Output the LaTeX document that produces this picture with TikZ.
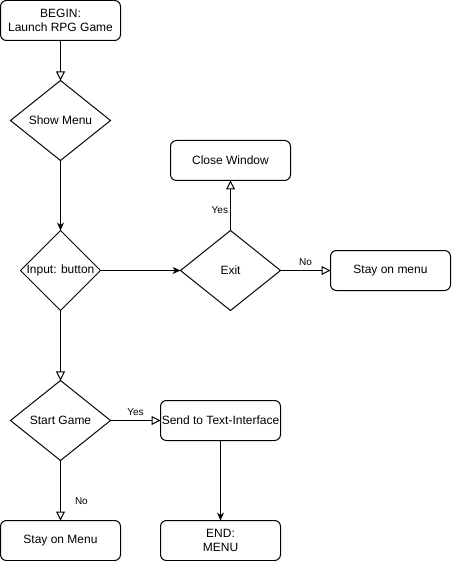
\documentclass[tikz,border=0pt]{standalone}
\usepackage{fontspec}
\setmainfont{Liberation Sans}
\usetikzlibrary{shapes,arrows.meta,positioning}
\tikzstyle{block} = [rectangle, draw, text centered, align=center, rounded corners=6pt, minimum width=120pt, minimum height=40pt, inner xsep=0.5pt, outer sep=0pt, font=\fontsize{12}{14}\selectfont]
\tikzstyle{decision} = [diamond, draw, inner sep=0pt, outer sep=0pt, minimum width=100pt, minimum height=80pt, font=\fontsize{12}{14}\selectfont]
\tikzstyle{line} = [draw, -{Stealth[length=8pt,width=7pt]}]
\tikzstyle{openline} = [draw, -{Triangle[open,length=9pt,width=9pt]}]
\tikzstyle{answer} = [font=\fontsize{10}{12}\selectfont, inner sep=2pt]

\begin{document}
\begin{tikzpicture}[x=1pt, y=-1pt, line width=1pt, node distance=40pt]
    \useasboundingbox (0,0) rectangle (451,561);
    % Place nodes
    \node [block] (begin) at (60.5,20.5) {BEGIN:\\Launch RPG Game};
    \node [decision, below=40pt of begin] (showmenu) {Show Menu};
    \node [decision, minimum width=80pt, below=70pt of showmenu] (input) {\makebox[0pt]{Input: button}};
    \node [decision, right=80pt of input] (exit) {Exit};
    \node [block, above=50pt of exit] (close) {Close Window};
    \node [block, right=50pt of exit] (stayexit) {Stay on menu};
    \node [decision, below=70pt of input] (startgame) {Start Game};
    \node [block, right=50pt of startgame] (send) {Send to Text-Interface};
    \node [block, below=60pt of startgame] (staymenu) {Stay on Menu};
    \node [block, below=80pt of send] (finish) {END:\\MENU};

    % Draw edges
    \path [openline] (begin) -- (showmenu);
    \path [line] (showmenu) -- (input);
    \path [line] (input) -- (exit);
    \path [openline] (exit) -- node [answer, pos=0.4, left=0pt] {Yes} (close);
    \path [openline] (exit) -- node [answer, above=2pt] {No} (stayexit);
    \path [openline] (input) -- (startgame);
    \path [openline] (startgame) -- node [answer, above=2pt] {Yes} (send);
    \path [openline] (startgame) -- node [answer, pos=0.67, right=12pt] {No} (staymenu);
    \path [line] (send) -- (finish);
\end{tikzpicture}
\end{document}
